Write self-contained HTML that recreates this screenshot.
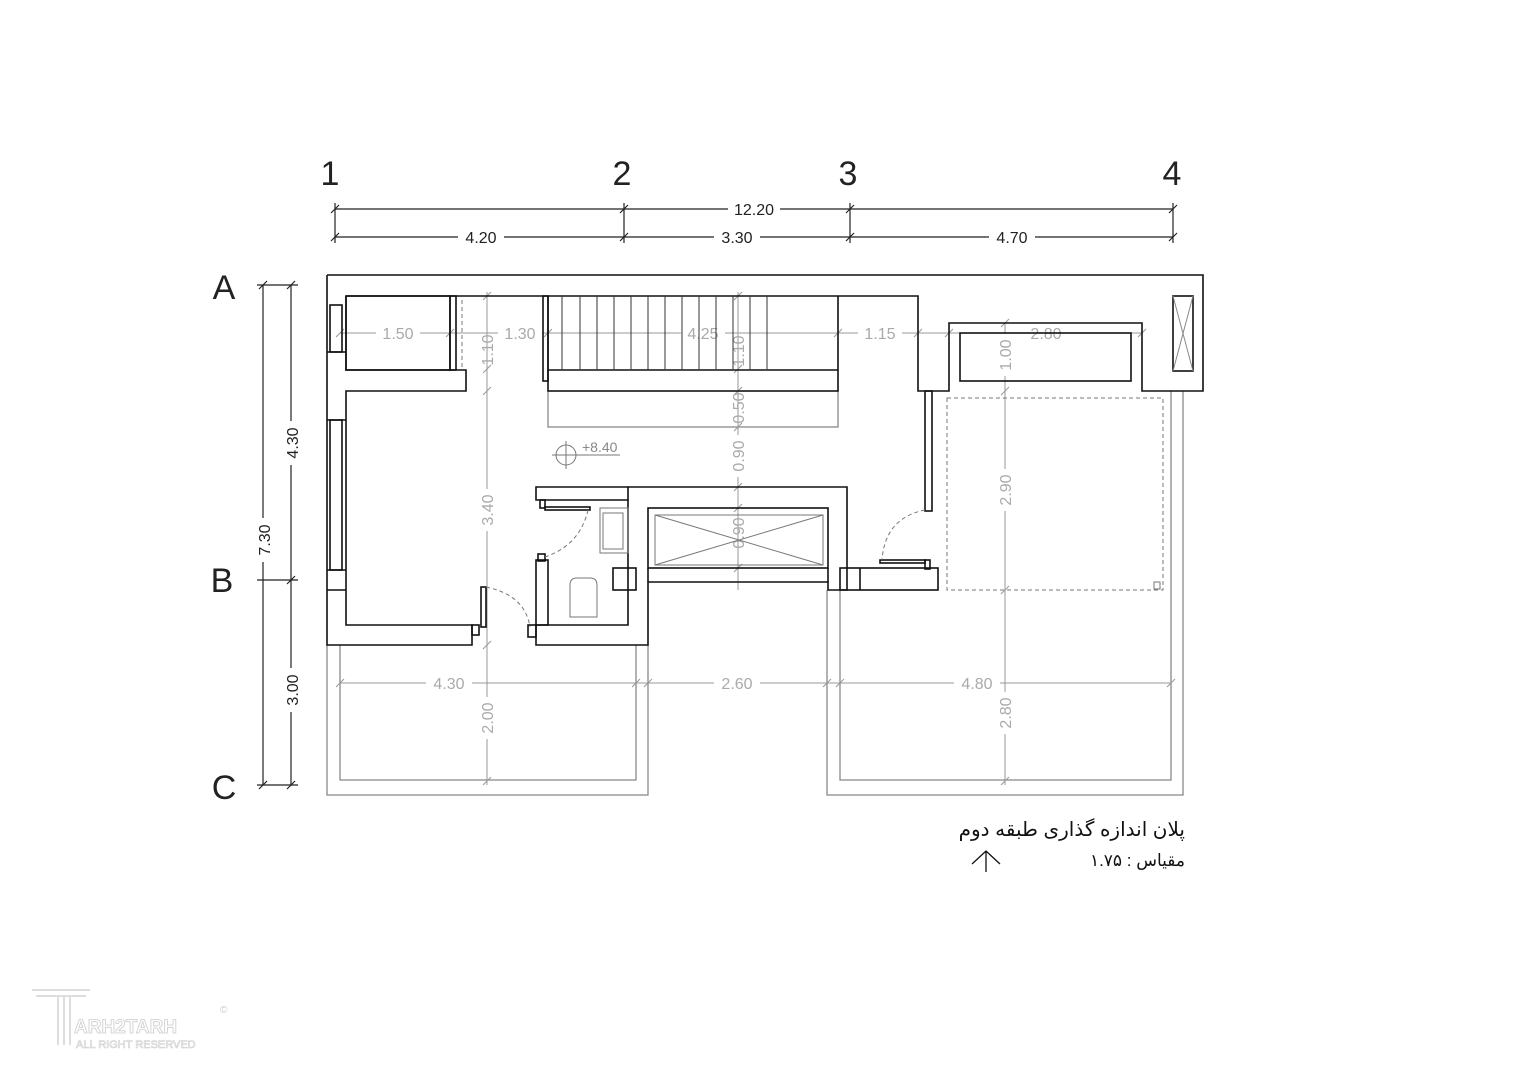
<!DOCTYPE html>
<html><head><meta charset="utf-8"><style>
html,body{margin:0;padding:0;background:#fff;}
svg{display:block}
</style></head><body>
<svg width="1528" height="1080" viewBox="0 0 1528 1080" xmlns="http://www.w3.org/2000/svg" font-family="Liberation Sans, sans-serif">
<rect width="1528" height="1080" fill="#fff"/>
<g font-size="34" fill="#222" text-anchor="middle">
<text x="330" y="185">1</text><text x="622" y="185">2</text><text x="848" y="185">3</text><text x="1172" y="185">4</text>
<text x="224" y="299">A</text><text x="222" y="592">B</text><text x="224" y="799">C</text>
</g>
<g stroke="#222" stroke-width="1.2" fill="none">
<line x1="335" y1="209" x2="1173" y2="209"/><line x1="335" y1="237" x2="1173" y2="237"/>
<line x1="335" y1="203" x2="335" y2="243"/><line x1="624" y1="203" x2="624" y2="243"/><line x1="850" y1="203" x2="850" y2="243"/><line x1="1173" y1="203" x2="1173" y2="243"/>
<path d="M331 213l8-8M620 213l8-8M846 213l8-8M1169 213l8-8M331 241l8-8M620 241l8-8M846 241l8-8M1169 241l8-8"/>
<line x1="263" y1="285" x2="263" y2="785"/><line x1="291" y1="285" x2="291" y2="785"/>
<line x1="257" y1="285" x2="298" y2="285"/><line x1="257" y1="580" x2="298" y2="580"/><line x1="257" y1="785" x2="298" y2="785"/>
<path d="M259 289l8-8M287 289l8-8M287 584l8-8M259 789l8-8M287 789l8-8"/>
</g>
<g font-size="16" fill="#222" text-anchor="middle">
<rect x="728" y="200" width="52" height="18" fill="#fff"/><text x="754" y="215">12.20</text>
<rect x="458" y="228" width="46" height="18" fill="#fff"/><text x="481" y="243">4.20</text>
<rect x="714" y="228" width="46" height="18" fill="#fff"/><text x="737" y="243">3.30</text>
<rect x="989" y="228" width="46" height="18" fill="#fff"/><text x="1012" y="243">4.70</text>
<g transform="translate(269,540) rotate(-90)"><rect x="-22" y="-13" width="44" height="18" fill="#fff"/><text x="0" y="1">7.30</text></g>
<g transform="translate(297,443) rotate(-90)"><rect x="-22" y="-13" width="44" height="18" fill="#fff"/><text x="0" y="1">4.30</text></g>
<g transform="translate(297,690) rotate(-90)"><rect x="-22" y="-13" width="44" height="18" fill="#fff"/><text x="0" y="1">3.00</text></g>
</g>
<g stroke="#888" stroke-width="1.3" fill="none">
<path d="M327 645V795H648V645"/><path d="M340 645V780H636V645"/>
<path d="M827 590V795H1183V391"/><path d="M840 590V780H1171V391"/>
<rect x="548" y="391" width="290" height="36"/>
</g>
<g stroke="#999" stroke-width="1" fill="none">
<line x1="487" y1="292" x2="487" y2="785"/><line x1="738" y1="292" x2="738" y2="590"/><line x1="1005" y1="323" x2="1005" y2="785"/>
<line x1="340" y1="333" x2="1142" y2="333"/><line x1="340" y1="683" x2="1171" y2="683"/>
<path d="M483 300l8-8M483 373l8-8M483 395l8-8M483 649l8-8M483 785l8-8M734 300l8-8M734 373l8-8M734 395l8-8M734 431l8-8M734 491l8-8M734 512l8-8M734 572l8-8M1001 327l8-8M1001 395l8-8M1001 594l8-8M1001 785l8-8M336 687l8-8M632 687l8-8M644 687l8-8M823 687l8-8M836 687l8-8M1167 687l8-8M336 337l8-8M446 337l8-8M544 337l8-8M834 337l8-8M914 337l8-8M945 337l8-8M1138 337l8-8"/>
</g>
<g font-size="16" fill="#aaa" text-anchor="middle">
<g fill="#fff"><rect x="376" y="324" width="44" height="18"/><rect x="498" y="324" width="44" height="18"/><rect x="681" y="324" width="44" height="18"/><rect x="858" y="324" width="44" height="18"/><rect x="426" y="674" width="46" height="18"/><rect x="714" y="674" width="46" height="18"/><rect x="954" y="674" width="46" height="18"/></g>
<text x="398" y="339">1.50</text><text x="520" y="339">1.30</text><text x="703" y="339">4.25</text><text x="880" y="339">1.15</text><text x="1046" y="339">2.80</text>
<text x="449" y="689">4.30</text><text x="737" y="689">2.60</text><text x="977" y="689">4.80</text>
<g transform="translate(493,350) rotate(-90)"><text>1.10</text></g>
<g transform="translate(493,510) rotate(-90)"><rect x="-21" y="-13" width="42" height="17" fill="#fff"/><text>3.40</text></g>
<g transform="translate(493,718) rotate(-90)"><rect x="-21" y="-13" width="42" height="17" fill="#fff"/><text>2.00</text></g>
<g transform="translate(744,351) rotate(-90)"><text>1.10</text></g>
<g transform="translate(744,408) rotate(-90)"><text>0.50</text></g>
<g transform="translate(744,456) rotate(-90)"><rect x="-21" y="-13" width="42" height="17" fill="#fff"/><text>0.90</text></g>
<g transform="translate(744,533) rotate(-90)"><text>0.90</text></g>
<g transform="translate(1011,355) rotate(-90)"><rect x="-21" y="-13" width="42" height="17" fill="#fff"/><text>1.00</text></g>
<g transform="translate(1011,490) rotate(-90)"><rect x="-21" y="-13" width="42" height="17" fill="#fff"/><text>2.90</text></g>
<g transform="translate(1011,713) rotate(-90)"><rect x="-21" y="-13" width="42" height="17" fill="#fff"/><text>2.80</text></g>
</g>
<g stroke="#111" stroke-width="1.6" fill="none">
<path d="M327 275H1203V391H1142V323H949V391H918V296H346"/>
<path d="M327 275V645H472V625H346V391H466V370H346V296"/>
<rect x="346" y="296" width="104" height="74"/>
<rect x="330" y="305" width="12" height="47"/><rect x="330" y="420" width="12" height="150"/>
<line x1="327" y1="352" x2="346" y2="352"/><line x1="327" y1="420" x2="346" y2="420"/><line x1="327" y1="570" x2="346" y2="570"/><line x1="327" y1="590" x2="346" y2="590"/>
<rect x="450" y="296" width="6" height="74"/>
<rect x="543" y="296" width="5" height="85"/>
<path d="M548 296V370H838V296M548 370V391H838V370"/>
<rect x="960" y="333" width="171" height="48"/>
<rect x="1173" y="296" width="20" height="75"/><path d="M1173 296L1193 371M1193 296L1173 371" stroke="#888" stroke-width="1"/>
<rect x="925" y="391" width="7" height="120"/>
<path d="M536 487H628V500H536Z"/><path d="M628 487H847V590H828V582H648V645H536V625H628V500"/>
<rect x="540" y="500" width="5" height="8"/><rect x="545" y="507" width="45" height="3"/>
<rect x="536" y="560" width="12" height="65"/><rect x="538" y="554" width="7" height="7"/>
<rect x="613" y="568" width="23" height="22"/>
<rect x="648" y="508" width="180" height="60"/><line x1="648" y1="568" x2="648" y2="582"/><line x1="828" y1="568" x2="828" y2="582"/>
<rect x="840" y="568" width="98" height="22"/><line x1="860" y1="568" x2="860" y2="590"/>
<rect x="880" y="560" width="45" height="3"/><rect x="925" y="560" width="5" height="9"/>
<rect x="481" y="587" width="5" height="40"/><rect x="472" y="625" width="7" height="10"/><rect x="528" y="625" width="8" height="12"/>
</g>
<g stroke="#777" stroke-width="1" fill="none">
<rect x="655" y="515" width="168" height="50"/><path d="M655 515L823 565M823 515L655 565"/>
<rect x="600" y="508" width="28" height="45"/><rect x="603" y="513" width="20" height="36"/>
<path d="M570 617V585Q570 578 577 578H590Q597 578 597 585V617Z"/>
<path d="M562 296V370M580 296V370M597 296V370M614 296V370M631 296V370M648 296V370M665 296V370M682 296V370M699 296V370M716 296V370M733 296V370M750 296V370M767 296V370" stroke="#333"/>
<path d="M462 300V370" stroke-dasharray="4 3"/>
<rect x="947" y="398" width="216" height="192" stroke-dasharray="4 3"/><rect x="1154" y="582" width="6" height="7"/>
<path d="M588 510Q580 545 545 557" stroke-dasharray="4 3"/><path d="M486 587Q525 595 530 627" stroke-dasharray="4 3"/><path d="M925 510Q885 518 882 560" stroke-dasharray="4 3"/>
<circle cx="566" cy="455" r="10"/><path d="M552 455H620M566 441V469"/>
</g>
<text x="582" y="452" font-size="14" fill="#888">+8.40</text>
<g font-family="Liberation Sans, 'Noto Sans CJK SC', 'DejaVu Sans', sans-serif" fill="#111" text-anchor="end">
<text x="1185" y="836" font-size="20">پلان اندازه گذاری طبقه دوم</text>
<text x="1185" y="866" font-size="17">مقیاس : ۱.۷۵</text>
</g>
<path d="M986 872V852M972 864L986 851L1000 864" stroke="#111" stroke-width="1.3" fill="none"/>
<g fill="none" stroke="#ddd" stroke-width="2">
<path d="M32 990H90M36 996H86M58 996V1045M64 996V1045M70 996V1045"/>
</g>
<text x="74" y="1033" font-size="19" fill="#fff" stroke="#ccc" stroke-width="0.8" font-weight="bold">ARH2TARH</text>
<text x="76" y="1048" font-size="11" fill="#fff" stroke="#ccc" stroke-width="0.6">ALL RIGHT RESERVED</text>
<text x="220" y="1013" font-size="10" fill="#ccc">©</text>
</svg>
</body></html>
